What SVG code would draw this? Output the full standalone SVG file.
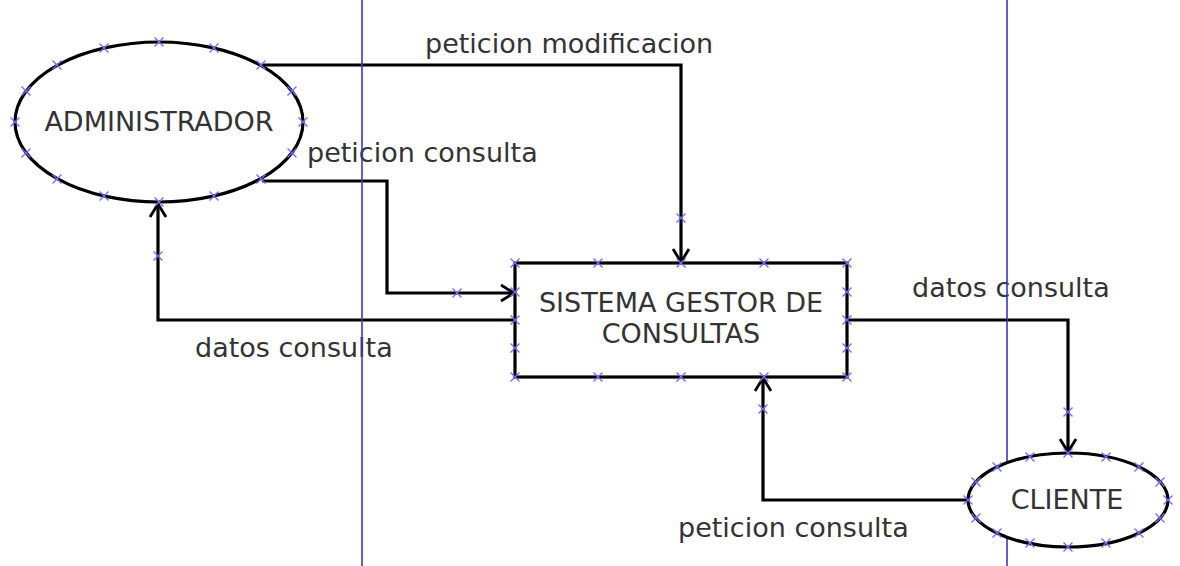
<svg xmlns="http://www.w3.org/2000/svg" xmlns:xlink="http://www.w3.org/1999/xlink" width="1180" height="566" viewBox="0 0 1180 566">
<style>
.node{fill:#fff;stroke:#000;stroke-width:3.2}
.conn{fill:none;stroke:#000;stroke-width:3.2;marker-end:url(#arr)}
.lane{stroke:#3838c8;stroke-width:1.6}
.lbl{font-family:"DejaVu Sans",Verdana,sans-serif;font-size:27px;fill:#333}
.ntx{font-family:"DejaVu Sans",Verdana,sans-serif;font-size:27px;fill:#333;text-anchor:middle}
.pt{stroke:#7070ee;stroke-width:1.4;fill:none}
</style>
<defs>
<marker id="arr" markerUnits="userSpaceOnUse" viewBox="-15 -10 17 20" refX="0" refY="0" markerWidth="17" markerHeight="20" orient="auto">
<path d="M-13,-8 L0,0 L-13,8" fill="none" stroke="#000" stroke-width="2.8"/>
</marker>
<path id="x" class="pt" d="M-4.5,-4.5L4.5,4.5M-4.5,4.5L4.5,-4.5"/>
</defs>
<rect width="1180" height="566" fill="#fff"/>
<g id="labels">
<text class="lbl" x="425" y="53">peticion modificacion</text>
<text class="lbl" x="307" y="162">peticion consulta</text>
<text class="lbl" x="195" y="357">datos consulta</text>
<text class="lbl" x="912" y="297">datos consulta</text>
<text class="lbl" x="678" y="537">peticion consulta</text>
</g>
<g id="connectors">
<path class="conn" d="M262,65 H681 V262"/>
<path class="conn" d="M262,181 H387 V293 H514"/>
<path class="conn" d="M515,320 H158 V204"/>
<path class="conn" d="M847,320 H1068 V452"/>
<path class="conn" d="M968,500 H763 V378"/>
<use href="#x" x="158" y="256"/>
<use href="#x" x="457" y="293"/>
<use href="#x" x="681" y="218"/>
<use href="#x" x="763" y="409"/>
<use href="#x" x="1068" y="412"/>
</g>
<g id="lanes">
<line class="lane" x1="362" y1="0" x2="362" y2="566"/>
<line class="lane" x1="1007" y1="0" x2="1007" y2="566"/>
</g>
<g id="administrador">
<ellipse class="node" cx="159" cy="122" rx="144" ry="80"/>
<text class="ntx" x="159" y="131">ADMINISTRADOR</text>
<use href="#x" x="303" y="122"/><use href="#x" x="292" y="153"/><use href="#x" x="261" y="179"/><use href="#x" x="214" y="196"/>
<use href="#x" x="159" y="202"/><use href="#x" x="104" y="196"/><use href="#x" x="57" y="179"/><use href="#x" x="26" y="153"/>
<use href="#x" x="15" y="122"/><use href="#x" x="26" y="91"/><use href="#x" x="57" y="65"/><use href="#x" x="104" y="48"/>
<use href="#x" x="159" y="42"/><use href="#x" x="214" y="48"/><use href="#x" x="261" y="65"/><use href="#x" x="292" y="91"/>
</g>
<g id="sistema">
<rect class="node" x="515" y="263" width="332" height="114"/>
<text class="ntx" x="681" y="312">SISTEMA GESTOR DE</text>
<text class="ntx" x="681" y="343">CONSULTAS</text>
<use href="#x" x="515" y="263"/><use href="#x" x="598" y="263"/><use href="#x" x="681" y="263"/><use href="#x" x="764" y="263"/><use href="#x" x="847" y="263"/>
<use href="#x" x="515" y="377"/><use href="#x" x="598" y="377"/><use href="#x" x="681" y="377"/><use href="#x" x="764" y="377"/><use href="#x" x="847" y="377"/>
<use href="#x" x="515" y="292"/><use href="#x" x="515" y="320"/><use href="#x" x="515" y="348"/>
<use href="#x" x="847" y="292"/><use href="#x" x="847" y="320"/><use href="#x" x="847" y="348"/>
</g>
<g id="cliente">
<ellipse class="node" cx="1068" cy="500" rx="100" ry="47"/>
<text class="ntx" x="1067" y="509">CLIENTE</text>
<use href="#x" x="1168" y="500"/><use href="#x" x="1160" y="518"/><use href="#x" x="1139" y="533"/><use href="#x" x="1106" y="543"/>
<use href="#x" x="1068" y="547"/><use href="#x" x="1030" y="543"/><use href="#x" x="997" y="533"/><use href="#x" x="976" y="518"/>
<use href="#x" x="968" y="500"/><use href="#x" x="976" y="482"/><use href="#x" x="997" y="467"/><use href="#x" x="1030" y="457"/>
<use href="#x" x="1068" y="453"/><use href="#x" x="1106" y="457"/><use href="#x" x="1139" y="467"/><use href="#x" x="1160" y="482"/>
</g>
</svg>
